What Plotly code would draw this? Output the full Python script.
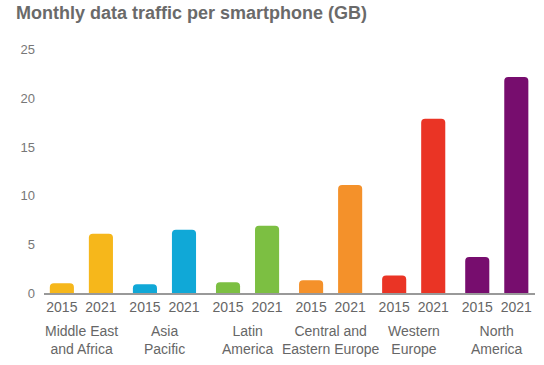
import plotly.graph_objects as go

regions = ["Middle East<br>and Africa", "Asia<br>Pacific", "Latin<br>America",
           "Central and<br>Eastern Europe", "Western<br>Europe", "North<br>America"]
years = ["2015", "2021"]
values_2015 = [1.0, 0.9, 1.1, 1.3, 1.8, 3.7]
values_2021 = [6.1, 6.5, 6.9, 11.1, 17.9, 22.2]
colors = ["#F6B71B", "#10A8D7", "#7CBF42", "#F4912A", "#EA3425", "#770D6E"]

FONT = "Liberation Sans, Arial, sans-serif"
offset = 0.235
x15 = [i - offset for i in range(len(regions))]
x21 = [i + offset for i in range(len(regions))]

fig = go.Figure()
fig.add_trace(go.Bar(x=x15, y=values_2015, width=0.29,
                     marker=dict(color=colors, cornerradius=4, line=dict(width=0)),
                     showlegend=False, hoverinfo="y"))
fig.add_trace(go.Bar(x=x21, y=values_2021, width=0.29,
                     marker=dict(color=colors, cornerradius=4, line=dict(width=0)),
                     showlegend=False, hoverinfo="y"))

tickvals = []
ticktext = []
for a, b in zip(x15, x21):
    tickvals += [a, b]
    ticktext += years

for i, r in enumerate(regions):
    fig.add_annotation(x=i, y=0, xref="x", yref="paper", yanchor="top", yshift=-28,
                       text=r, showarrow=False, align="center",
                       font=dict(size=14, color="#666666", family=FONT))

fig.update_layout(
    width=544, height=365,
    margin=dict(l=44, r=9, t=40, b=72),
    plot_bgcolor="white", paper_bgcolor="white",
    barmode="overlay",
    title=dict(text="<b>Monthly data traffic per smartphone (GB)</b>", x=16/544, xanchor="left",
               y=1 - 6/365, yanchor="top",
               font=dict(size=18, color="#6a6a6a", family=FONT)),
    xaxis=dict(range=[-0.45, 5.46], tickvals=tickvals, ticktext=ticktext, showline=True,
               linecolor="#999999", linewidth=2, showgrid=False, zeroline=False, ticks="",
               tickfont=dict(size=14, color="#666666", family=FONT)),
    yaxis=dict(range=[0, 26], tickvals=[0, 5, 10, 15, 20, 25], showgrid=False, zeroline=False,
               showline=False, ticks="", ticklabelstandoff=8,
               tickfont=dict(size=13, color="#777777", family=FONT)),
)

fig.write_html("out.html", config={"displayModeBar": False},
               post_script="document.body.style.margin='0';")
